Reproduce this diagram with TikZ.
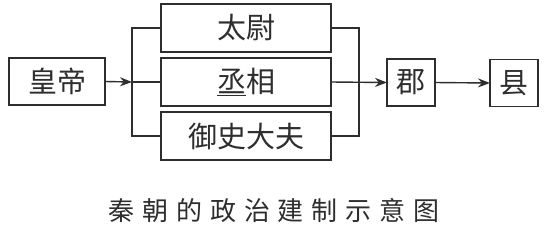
\documentclass[tikz,border=0pt]{standalone}
\usepackage{fontspec}
\setmainfont{Noto Sans CJK SC}
\usetikzlibrary{arrows.meta}
\definecolor{ink}{HTML}{2E2E2E}
\tikzset{
  box/.style={draw=ink, line width=1.4pt, rectangle, inner sep=0pt, outer sep=0pt,
    text=ink, font=\fontsize{29}{29}\selectfont, minimum height=47pt},
  conn/.style={draw=ink, line width=1.4pt},
  arr/.style={conn, -{Stealth[length=12pt,width=9pt]}}
}
\begin{document}
\begin{tikzpicture}[x=1pt,y=-1pt]
\useasboundingbox (0,0) rectangle (549,234);
\fill[white] (0,0) rectangle (549,234);
\node[box, minimum width=96pt] (hd) at (57,81.5) {皇帝};
\node[box, minimum width=170pt, minimum height=48pt] (tw) at (246,28) {太尉};
\node[box, minimum width=170pt, minimum height=48pt] (cx) at (246,82) {$\underline{\hbox{丞}}$相};
\node[box, minimum width=170pt, minimum height=48pt] (ys) at (246,136) {御史大夫};
\node[box, minimum width=48pt] (jun) at (411,82.5) {郡};
\node[box, minimum width=48pt] (xian) at (514,83) {县};
\coordinate (lb) at (132,82);
\coordinate (rb) at (359,82);
\draw[arr] (hd.east) -- (lb);
\draw[conn] (tw.west) -| (lb) |- (ys.west);
\draw[conn] (lb) -- (cx.west);
\draw[conn] (tw.east) -| (rb) |- (ys.east);
\draw[arr] (cx.east) -- (jun.west);
\draw[arr] (jun.east) -- (xian.west);
\node[text=ink, font=\fontsize{26}{26}\selectfont\addfontfeature{LetterSpace=30}] (cap) at (274,211) {秦朝的政治建制示意图};
\end{tikzpicture}
\end{document}
